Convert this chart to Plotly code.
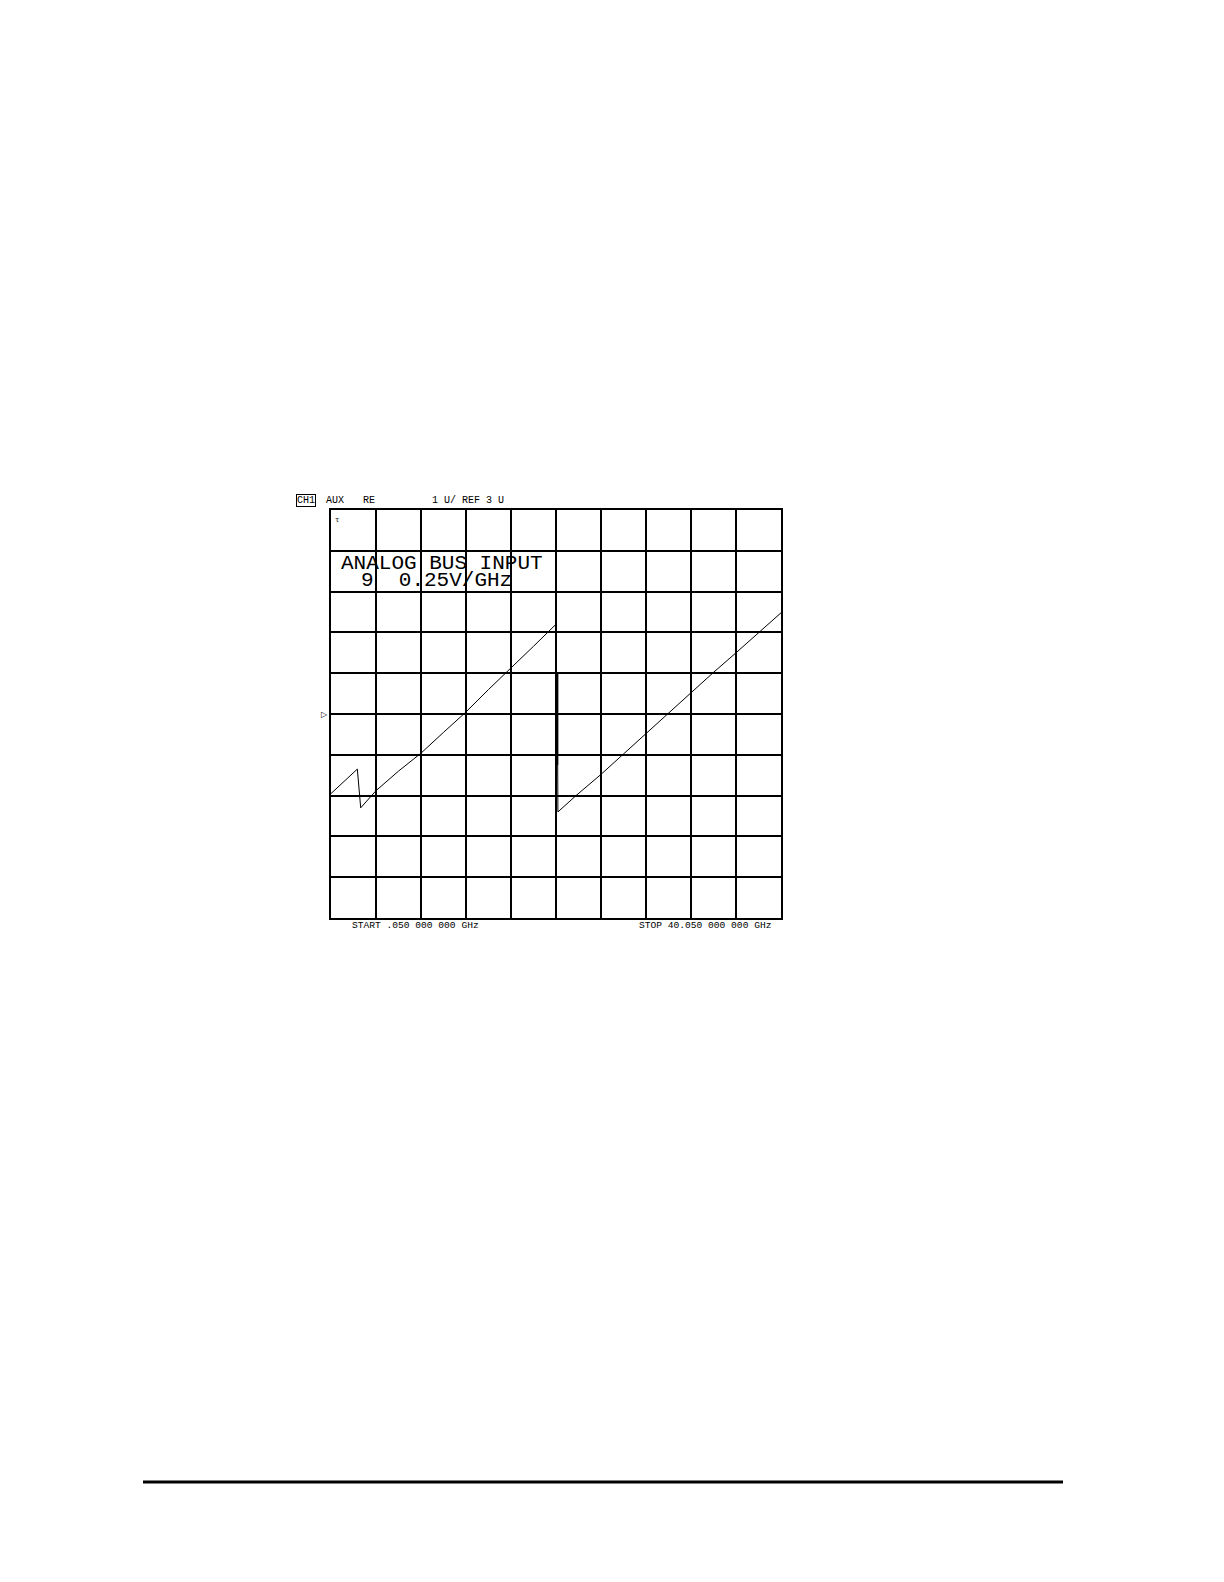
import plotly.graph_objects as go

# page geometry in pixels; the html body adds an 8 px margin
page_w, page_h = 1224, 1582
body_margin = 8
fig_w, fig_h = page_w - 2 * body_margin, page_h - 2 * body_margin
plot_left, plot_right = 331, 781
plot_top, plot_bottom = 510, 918

# sweep: start / stop frequency in GHz, 1 U/div, REF 3 U at centre
start_ghz = 0.05
stop_ghz = 40.05
y_bottom_u = -2
y_top_u = 8
ref_u = 3

# analog bus trace
ramp_a_ghz = [0.05, 1.2, 2.39, 2.69, 4.05, 6.05, 8.05, 10.05, 12.05, 14.05, 16.05, 18.05, 20.05]
ramp_a_u = [1.05, 1.35, 1.65, 0.7, 1.12, 1.6, 2.04, 2.55, 3.05, 3.6, 4.12, 4.66, 5.2]

retrace_ghz = [20.15, 20.15]
retrace_u = [4.03, 1.75]

ramp_b_ghz = [20.2, 20.22, 21.83, 24.05, 26.05, 28.05, 30.05, 32.05, 34.05, 36.05, 38.05, 40.05]
ramp_b_u = [1.75, 0.6, 1.0, 1.52, 2.02, 2.52, 3.02, 3.53, 4.02, 4.5, 4.98, 5.48]

header_labels = ["AUX", "RE", "1 U/ REF 3 U"]
title_lines = ["ANALOG BUS INPUT", "9  0.25V/GHz"]
start_label = "START .050 000 000 GHz"
stop_label = "STOP 40.050 000 000 GHz"


def px_x(px):
    return (px - body_margin) / fig_w


def px_y(py):
    return 1 - (py - body_margin) / fig_h


mono = "Liberation Mono"

fig = go.Figure()
fig.add_trace(go.Scatter(x=ramp_a_ghz, y=ramp_a_u, mode="lines",
                         line=dict(color="black", width=1), showlegend=False))
fig.add_trace(go.Scatter(x=retrace_ghz, y=retrace_u, mode="lines",
                         line=dict(color="black", width=2.5), showlegend=False))
fig.add_trace(go.Scatter(x=ramp_b_ghz, y=ramp_b_u, mode="lines",
                         line=dict(color="black", width=1), showlegend=False))

annotations = []
# channel header
annotations.append(dict(x=px_x(296), y=px_y(500), xref="paper", yref="paper", text="CH1",
                        showarrow=False, xanchor="left", yanchor="middle",
                        font=dict(family=mono, size=10, color="black"),
                        bordercolor="black", borderwidth=1, borderpad=0))
for label, left in zip(header_labels, [324, 361, 430]):
    annotations.append(dict(x=px_x(left), y=px_y(500), xref="paper", yref="paper", text=label,
                            showarrow=False, xanchor="left", yanchor="middle",
                            font=dict(family=mono, size=10, color="black")))
# big overlay text
annotations.append(dict(x=px_x(339), y=px_y(564), xref="paper", yref="paper", text=title_lines[0],
                        showarrow=False, xanchor="left", yanchor="middle",
                        font=dict(family=mono, size=21, color="black")))
annotations.append(dict(x=px_x(359), y=px_y(580), xref="paper", yref="paper", text=title_lines[1],
                        showarrow=False, xanchor="left", yanchor="middle",
                        font=dict(family=mono, size=21, color="black")))
# small mark in top-left cell
annotations.append(dict(x=px_x(333), y=px_y(520), xref="paper", yref="paper", text="τ",
                        showarrow=False, xanchor="left", yanchor="middle",
                        font=dict(family="DejaVu Sans", size=7, color="black")))
# reference position marker
annotations.append(dict(x=px_x(330), y=ref_u, xref="paper", yref="y", text="▷",
                        showarrow=False, xanchor="right", yanchor="middle",
                        font=dict(family="DejaVu Sans", size=8, color="black")))
# start / stop
annotations.append(dict(x=px_x(350), y=px_y(925), xref="paper", yref="paper", text=start_label,
                        showarrow=False, xanchor="left", yanchor="middle",
                        font=dict(family=mono, size=9.6, color="black")))
annotations.append(dict(x=px_x(773), y=px_y(925), xref="paper", yref="paper", text=stop_label,
                        showarrow=False, xanchor="right", yanchor="middle",
                        font=dict(family=mono, size=9.6, color="black")))

fig.update_layout(width=fig_w, height=fig_h,
                  margin=dict(l=0, r=0, t=0, b=0),
                  paper_bgcolor="white", plot_bgcolor="white",
                  showlegend=False,
                  annotations=annotations,
                  shapes=[dict(type="line", xref="paper", yref="paper",
                               x0=px_x(143), x1=px_x(1063), y0=px_y(1482), y1=px_y(1482),
                               line=dict(color="black", width=3))],
                  xaxis=dict(domain=[px_x(plot_left), px_x(plot_right)],
                             range=[start_ghz, stop_ghz], tick0=start_ghz, dtick=4,
                             showgrid=True, gridcolor="black", gridwidth=1.5,
                             showline=True, linecolor="black", linewidth=1.5, mirror=True,
                             zeroline=False, showticklabels=False, ticks=""),
                  yaxis=dict(domain=[px_y(plot_bottom), px_y(plot_top)],
                             range=[y_bottom_u, y_top_u], tick0=0, dtick=1,
                             showgrid=True, gridcolor="black", gridwidth=1.5,
                             showline=True, linecolor="black", linewidth=1.5, mirror=True,
                             zeroline=False, showticklabels=False, ticks=""))

fig.write_html("out.html")
